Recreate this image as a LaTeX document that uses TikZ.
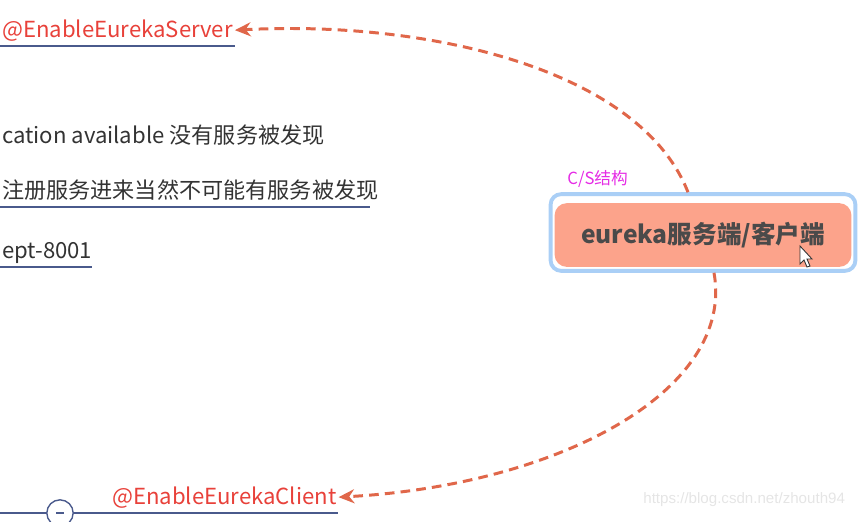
\documentclass[tikz,border=0pt]{standalone}
\usepackage{fontspec}
\setmainfont{Noto Sans CJK SC}
\newfontfamily\markfont{Liberation Sans}
\usepackage{xcolor}
\usetikzlibrary{arrows.meta, positioning, calc}

\definecolor{linkred}{HTML}{E0674A}
\definecolor{annored}{HTML}{E8413A}
\definecolor{lineblue}{HTML}{4A5A8C}
\definecolor{salmon}{HTML}{FCA38B}
\definecolor{frameblue}{HTML}{AACFF6}
\definecolor{topicgray}{HTML}{4A4A4A}
\definecolor{notepink}{HTML}{E52BE5}

\tikzset{
  leaf/.style={inner sep=1pt, font=\fontsize{12.6}{15}\selectfont, text=black!80},
  anno/.style={inner sep=1pt, font=\fontsize{12.6}{15}\selectfont, text=annored},
  uline/.style={draw=lineblue, line width=0.8pt},
  link/.style={draw=linkred, line width=1.7pt, dash pattern=on 5.5pt off 3.5pt, -{Stealth[length=9pt,width=8pt]}}
}

\begin{document}
\begin{tikzpicture}[x=0.02cm, y=-0.02cm]
    \useasboundingbox (0,0) rectangle (862,521);
    \clip (0,0) rectangle (862,521);

    % left branches
    \node [anno, anchor=south west] (srv) at (0,43) {@EnableEurekaServer};
    \draw [uline] (-2,46) -- (235,46);

    \node [leaf, anchor=west] (nofind) at (0,135) {cation available 没有服务被发现};
    \node [leaf, anchor=west] (noreg) at (0,190) {注册服务进来当然不可能有服务被发现};
    \draw [uline] (-2,207) -- (370,207);
    \node [leaf, anchor=west] (port) at (0,253) {ept-8001};
    \draw [uline] (-2,267) -- (92,267);

    \node [anno, anchor=south west] (cli) at (110,510) {@EnableEurekaClient};
    \draw [uline] (-2,513) -- (52,513);
    \draw [uline] (68,513) -- (338,513);
    \node [circle, draw=lineblue, line width=0.8pt, fill=white, minimum size=15pt, inner sep=0pt] (fold) at (60,513) {};
    \draw [lineblue, line width=0.8pt] ($(fold.center)+(-4,0)$) -- ($(fold.center)+(4,0)$);

    % central topic
    \node [rectangle, rounded corners=6pt, draw=frameblue, line width=2.2pt, fill=white,
           minimum width=306pt*0.567, minimum height=77pt*0.567] (frame) at (703,232.5) {};
    \node [rectangle, rounded corners=7pt, fill=salmon, minimum width=298pt*0.567, minimum height=64pt*0.567,
           font=\bfseries\fontsize{14}{16}\selectfont, text=topicgray] (topic) at (703,235) {eureka服务端/客户端};
    \node [inner sep=0pt, anchor=south west, font=\fontsize{9.5}{11}\selectfont, text=notepink] (cs) at (567,188) {C/S结构};

    % cursor
    \draw [fill=white, draw=black!80, line width=0.5pt] (800,246) -- (800,264) -- (804,260) -- (807,267) -- (810,266) -- (807,259) -- (812,259) -- cycle;

    % links
    \draw [link] (frame.north -| 688,0) .. controls (640,70) and (430,20) .. (srv.east);
    \draw [link] (frame.south -| 714,0) .. controls (735,390) and (560,485) .. (cli.east);

    % watermark
    \node [inner sep=0pt, anchor=west, font=\markfont\fontsize{8.6}{10}\selectfont, text=black!10] (mark) at (643,500) {https://blog.csdn.net/zhouth94};
\end{tikzpicture}
\end{document}
